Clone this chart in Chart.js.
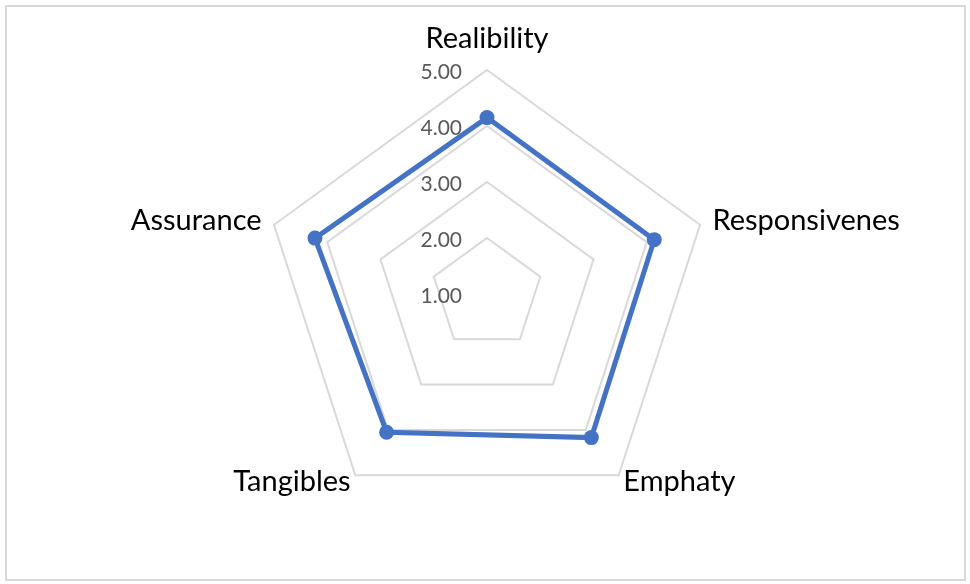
<!DOCTYPE html>
<html>
<head>
<meta charset="utf-8">
<script src="https://cdn.jsdelivr.net/npm/chart.js@4"></script>
<style>
  body { margin: 0; background: #fff; }
  #wrap { position: relative; width: 970px; height: 584px; }
  #frame {
    position: absolute; left: 5px; top: 5px; width: 957px; height: 572px;
    border: 2px solid #d9d9d9; box-sizing: content-box;
  }
  #chart { position: absolute; left: 0; top: 0; }
</style>
</head>
<body>
<div id="wrap">
  <div id="frame"></div>
  <canvas id="chart" width="970" height="584"></canvas>
</div>
<script>
// data
var dimensions = ['Realibility', 'Responsivenes', 'Emphaty', 'Tangibles', 'Assurance'];
var scores = [4.15, 4.14, 4.17, 4.05, 4.23];
var tickValues = [1, 2, 3, 4, 5];

// labels drawn from the radial scale positions (Excel style: ticks left of the top axis)
var excelLabels = {
    id: 'excelLabels',
    beforeDatasetsDraw: function(chart) {
        var scale = chart.scales.r;
        var ctx = chart.ctx;
        ctx.save();

        // tick labels
        ctx.font = '21px Lato';
        ctx.fillStyle = '#595959';
        ctx.textAlign = 'right';
        ctx.textBaseline = 'middle';
        tickValues.forEach(function(v) {
            var d = scale.getDistanceFromCenterForValue(v);
            ctx.fillText(v.toFixed(2), scale.xCenter - 25, scale.yCenter - d + 2);
        });

        // category labels
        ctx.font = '29px Lato';
        ctx.fillStyle = '#000000';
        var pads = [31, 13, 8, 8, 13];
        var aligns = ['center', 'left', 'left', 'right', 'right'];
        dimensions.forEach(function(name, i) {
            var p = scale.getPointPosition(i, scale.drawingArea + pads[i]);
            ctx.textAlign = aligns[i];
            ctx.fillText(name, p.x, p.y);
        });
        ctx.restore();
    }
};

var ctx = document.getElementById('chart').getContext('2d');
var radarChart = new Chart(ctx, {
    type: 'radar',
    data: {
        labels: dimensions,
        datasets: [{
            data: scores,
            borderColor: '#4472c4',
            backgroundColor: '#4472c4',
            borderWidth: 5,
            pointRadius: 7.5,
            pointHoverRadius: 7.5,
            pointBackgroundColor: '#4472c4',
            pointBorderWidth: 0,
            fill: false,
            tension: 0
        }]
    },
    options: {
        responsive: false,
        animation: false,
        layout: {
            padding: { top: 70, bottom: 66, left: 4, right: 0 }
        },
        plugins: {
            legend: { display: false },
            tooltip: { enabled: false }
        },
        scales: {
            r: {
                min: 1,
                max: 5,
                ticks: { stepSize: 1, display: false },
                grid: { color: '#d9d9d9', lineWidth: 2 },
                angleLines: { display: false },
                pointLabels: { display: false }
            }
        }
    },
    plugins: [excelLabels]
});
</script>
</body>
</html>
